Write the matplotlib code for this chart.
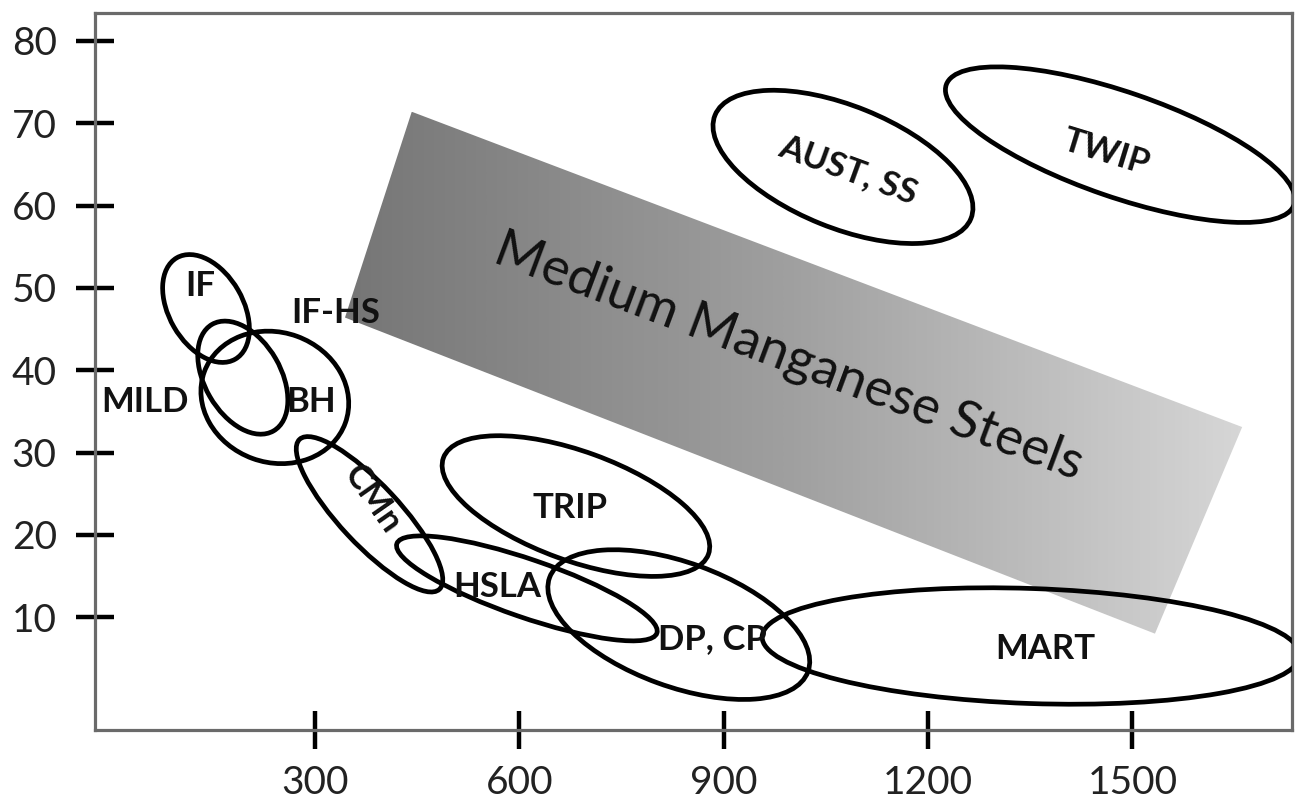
import matplotlib
matplotlib.use("Agg")
import matplotlib.pyplot as plt
import numpy as np
from matplotlib.patches import Ellipse, Polygon
from matplotlib.transforms import ScaledTranslation
from matplotlib.colors import LinearSegmentedColormap

plt.rcParams["font.family"] = ["Lato", "DejaVu Sans"]

# Steel families: centre of each property window (tensile strength, total elongation)
steel_names = ["IF", "MILD", "IF-HS", "CMn", "HSLA", "TRIP", "DP, CP", "MART", "AUST, SS", "TWIP"]
strength_mpa = [140, 194, 241, 380, 611, 683, 834, 1351, 1075, 1482]
elongation_pct = [47.5, 39.1, 36.7, 22.5, 13.5, 23.5, 9.1, 6.5, 64.7, 67.4]

# Family labels and where they sit
label_text = ["IF", "MILD", "IF-HS", "BH", "CMn", "HSLA", "TRIP", "DP, CP", "MART", "AUST, SS", "TWIP"]
label_strength = [131, 50, 331, 294, 385, 567, 674, 883, 1372, 1083, 1461]
label_elongation = [50.2, 36.1, 47.0, 36.2, 24.3, 13.7, 23.3, 7.3, 6.1, 64.4, 66.4]
label_rotation = [0, 0, 0, 0, -55, 0, 0, 0, 0, -20, -17]

# Medium manganese steel band (corner points)
band_strength = [442, 1661, 1533, 344]
band_elongation = [71.4, 33.1, 8.0, 46.4]
band_label = "Medium Manganese Steels"

x_ticks = [300, 600, 900, 1200, 1500]
y_ticks = [10, 20, 30, 40, 50, 60, 70, 80]

# Ellipse outline sizes (inches) and tilt (degrees on the page)
ell_w = [1.17, 1.23, 1.50, 2.05, 2.75, 2.82, 2.75, 5.38, 2.76, 3.68]
ell_h = [0.74, 0.76, 1.30, 0.60, 0.58, 1.09, 1.24, 1.15, 1.22, 1.05]
ell_angle = [-60, -60, -20, -47, -19, -20, -20, -2, -22, -19]

fig = plt.figure(figsize=(13.01, 8.05), dpi=100)
ax = fig.add_axes([0.073, 0.0932, 0.920, 0.8907])

# gradient-filled band
poly = Polygon(list(zip(band_strength, band_elongation)), closed=True,
               facecolor="none", edgecolor="none")
ax.add_patch(poly)
grey = LinearSegmentedColormap.from_list("band", ["#767676", "#a0a0a0", "#d6d6d6"])
grad = np.linspace(0, 1, 256).reshape(1, -1)
img = ax.imshow(grad, cmap=grey, aspect="auto", interpolation="bicubic",
                extent=[min(band_strength), max(band_strength),
                        min(band_elongation), max(band_elongation)],
                zorder=1)
img.set_clip_path(poly)
ax.set_xlim(-23, 1734)
ax.set_ylim(-3.7, 83.4)

ax.text(995, 41.6, band_label, fontsize=38, rotation=-20.5, ha="center", va="center",
        color="#111111", rotation_mode="anchor", zorder=3)

# property windows
for cx, cy, w, h, a in zip(strength_mpa, elongation_pct, ell_w, ell_h, ell_angle):
    tr = fig.dpi_scale_trans + ScaledTranslation(cx, cy, ax.transData)
    ax.add_patch(Ellipse((0, 0), w, h, angle=a, transform=tr, fill=False,
                         edgecolor="black", linewidth=3.4, zorder=4))

for t, x, y, r in zip(label_text, label_strength, label_elongation, label_rotation):
    ax.text(x, y, t, fontsize=25, fontweight="bold", ha="center", va="center",
            rotation=r, rotation_mode="anchor", color="#111111", zorder=5)

ax.set_xticks(x_ticks)
ax.set_yticks(y_ticks)
ax.tick_params(direction="inout", length=27, width=3.2, color="black",
               labelsize=28, labelcolor="#222222")
ax.tick_params(axis="y", pad=14)
ax.tick_params(axis="x", pad=12)
for s in ax.spines.values():
    s.set_color("#6a6a6a")
    s.set_linewidth(2.3)

fig.savefig("out.png", dpi=100)
